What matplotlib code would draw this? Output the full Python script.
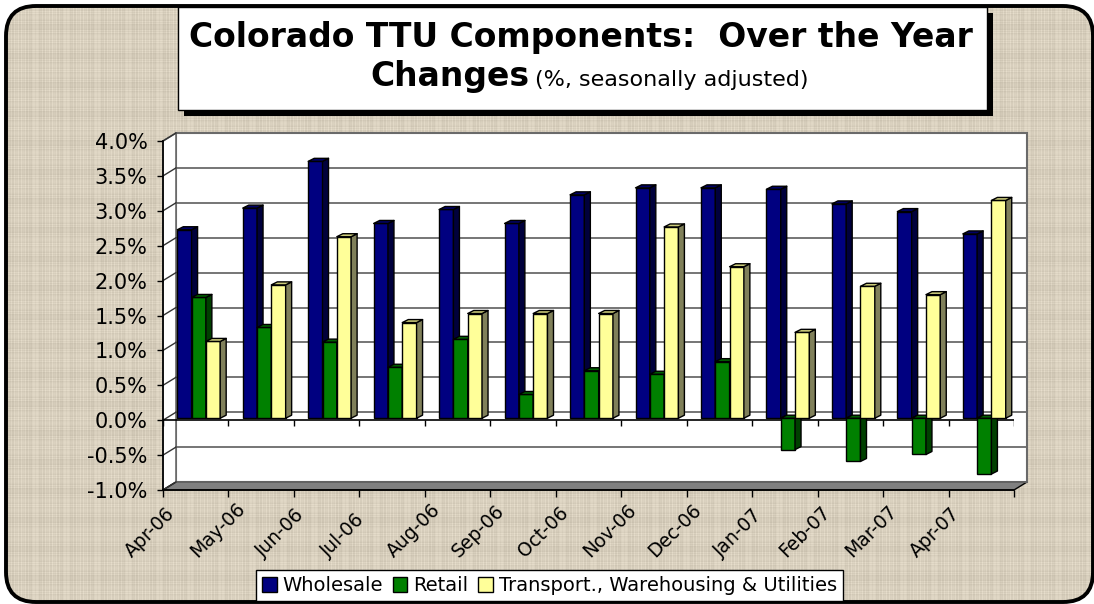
import numpy as np
import matplotlib
matplotlib.use('Agg')
import matplotlib.pyplot as plt
from matplotlib.patches import Rectangle, Polygon, FancyBboxPatch
from matplotlib.collections import PolyCollection
from matplotlib.transforms import Affine2D, offset_copy
from matplotlib.ticker import FuncFormatter

# Colorado TTU components, over-the-year % change (seasonally adjusted)
months = ['Apr-06', 'May-06', 'Jun-06', 'Jul-06', 'Aug-06', 'Sep-06', 'Oct-06',
          'Nov-06', 'Dec-06', 'Jan-07', 'Feb-07', 'Mar-07', 'Apr-07']
wholesale = [2.70, 3.01, 3.68, 2.79, 2.99, 2.79, 3.20, 3.30, 3.30, 3.28, 3.07, 2.96, 2.64]
retail = [1.73, 1.30, 1.09, 0.73, 1.13, 0.34, 0.68, 0.63, 0.81, -0.45, -0.62, -0.52, -0.80]
transport = [1.10, 1.91, 2.60, 1.37, 1.50, 1.50, 1.50, 2.74, 2.17, 1.23, 1.89, 1.77, 3.12]
names = ['Wholesale', 'Retail', 'Transport., Warehousing & Utilities']

W, H = 1094, 604
fig = plt.figure(figsize=(W / 100, H / 100), dpi=100, facecolor='white')
PX = Affine2D().scale(1 / W, -1 / H).translate(0, 1) + fig.transFigure

# beige woven-looking background inside a rounded frame
frame = FancyBboxPatch((6, 6), 1087, 596, boxstyle='round,pad=0,rounding_size=30',
                       transform=PX, facecolor='#d8cfbc', edgecolor='none', zorder=-3)
fig.add_artist(frame)
ax_bg = fig.add_axes([0, 0, 1, 1], zorder=-2)
ax_bg.set_axis_off()
i = np.arange(H)
j = np.arange(W)
rv = ((i * i * 13 + i * 7) % 29) / 28.0
cv = ((j * j * 11 + j * 5) % 31) / 30.0
shade = 0.5 * rv[:, None] + 0.5 * cv[None, :] - 0.5
base = np.array([218, 209, 191]) / 255.0
tex = np.clip(base[None, None, :] + shade[:, :, None] * 0.13, 0, 1)
im = ax_bg.imshow(tex, extent=(0, 1, 0, 1), aspect='auto', interpolation='nearest')
im.set_clip_path(frame)
border = FancyBboxPatch((6, 6), 1087, 596, boxstyle='round,pad=0,rounding_size=30',
                        transform=PX, facecolor='none', edgecolor='black', lw=2.8, zorder=5)
fig.add_artist(border)

# title box with drop shadow
fig.add_artist(Rectangle((184, 13), 809, 103, transform=PX, facecolor='black', lw=0))
fig.add_artist(Rectangle((178, 7), 809, 103, transform=PX, facecolor='white',
                         edgecolor='black', lw=1))
fig.text(581, 47, 'Colorado TTU Components:  Over the Year', transform=PX,
         ha='center', va='baseline', fontsize=23.8, fontweight='bold')
fig.text(530, 86, 'Changes', transform=PX, ha='right', va='baseline',
         fontsize=23.8, fontweight='bold')
fig.text(535, 86, '(%, seasonally adjusted)', transform=PX, ha='left',
         va='baseline', fontsize=16)

# plot area: front plane of the 3-D box
ax = fig.add_axes([163 / W, 1 - 490 / H, 851 / W, 349 / H])
ax.set_xlim(0, 13)
ax.set_ylim(-1, 4)
ax.patch.set_alpha(0)

ux = 851 / 13.0
uy = 349 / 5.0
DX, DY = 13 / ux, 8 / uy   # wall depth
BX, BY = 3 / ux, 2 / uy    # bar front offset
SX, SY = 6 / ux, 3 / uy    # bar depth
grid_c = '#6a6a6a'

ax.add_patch(Rectangle((DX, -1 + DY), 13, 5, facecolor='white', edgecolor=grid_c,
                       lw=1.5, clip_on=False, zorder=0.5))
ax.add_patch(Polygon([(0, -1), (DX, -1 + DY), (DX, 4 + DY), (0, 4)], facecolor='white',
                     edgecolor=grid_c, lw=1.2, clip_on=False, zorder=0.6))
ax.add_patch(Polygon([(0, -1), (13, -1), (13 + DX, -1 + DY), (DX, -1 + DY)],
                     facecolor='#808080', edgecolor='black', lw=1, clip_on=False, zorder=0.7))

yt = np.arange(-1, 4.01, 0.5)
for y in yt:
    ax.plot([DX, 13 + DX], [y + DY, y + DY], color=grid_c, lw=1.3, clip_on=False, zorder=0.8)
    ax.plot([0, DX], [y, y + DY], color='#333333', lw=1, clip_on=False, zorder=0.8)

# category axis at zero
ax.plot([0, 13], [0, 0], color='black', lw=1.2, zorder=1)
ax.vlines(np.arange(14), -0.08, 0, color='black', lw=1, zorder=1)

x = np.arange(len(months))
bw = 14.3 / ux
series = [
    (wholesale, '#000080', '#00003c', '#000066'),
    (retail, '#008000', '#004000', '#006000'),
    (transport, '#ffff99', '#80805a', '#cccc7a'),
]
handles = []
for k, (vals, fc, sc, tc) in enumerate(series):
    xs = x + 0.5 + (k - 1) * bw + BX
    b = ax.bar(xs, vals, bw, bottom=BY, color=fc, edgecolor='black', lw=1,
               zorder=3 + k, label=names[k])
    handles.append(b)
    tops, sides = [], []
    for xc, v in zip(xs, vals):
        x0, x1 = xc - bw / 2, xc + bw / 2
        top = max(v, 0) + BY
        bot = min(v, 0) + BY
        tops.append([(x0, top), (x1, top), (x1 + SX, top + SY), (x0 + SX, top + SY)])
        sides.append([(x1, bot), (x1, top), (x1 + SX, top + SY), (x1 + SX, bot + SY)])
    ax.add_collection(PolyCollection(sides, facecolors=sc, edgecolors='black',
                                     linewidths=1, zorder=3 + k))
    ax.add_collection(PolyCollection(tops, facecolors=tc, edgecolors='black',
                                     linewidths=1, zorder=3 + k))

for s in ['top', 'right']:
    ax.spines[s].set_visible(False)
ax.spines['left'].set_linewidth(1.2)
ax.spines['bottom'].set_linewidth(1.2)
ax.set_yticks(yt)
ax.yaxis.set_major_formatter(FuncFormatter(lambda v, p: f'{v:.1f}%'))
ax.tick_params(axis='y', direction='out', length=4, width=1, labelsize=15, pad=7)
ax.set_xticks(np.arange(14))
ax.set_xticklabels([])
ax.tick_params(axis='x', direction='out', length=5, width=1)

# month labels, Excel style: text starts lower-left of each category
lab_tr = offset_copy(ax.transData, fig, x=-64, y=-68, units='dots')
for xc, m in zip(x + 0.5, months):
    ax.text(xc, -1, m, transform=lab_tr, rotation=45, rotation_mode='anchor',
            ha='left', va='baseline', fontsize=13.5, clip_on=False)

leg = fig.legend(handles=handles, loc='lower center', bbox_to_anchor=(549.5 / W, 1 - 601 / H),
                 bbox_transform=fig.transFigure, ncol=3, fontsize=14, frameon=True,
                 fancybox=False, edgecolor='black', framealpha=1, borderpad=0.3,
                 handlelength=0.75, handleheight=0.75, handletextpad=0.3,
                 columnspacing=0.5, borderaxespad=0)
leg.get_frame().set_linewidth(1)

fig.savefig('out.png', dpi=100, facecolor='white')
